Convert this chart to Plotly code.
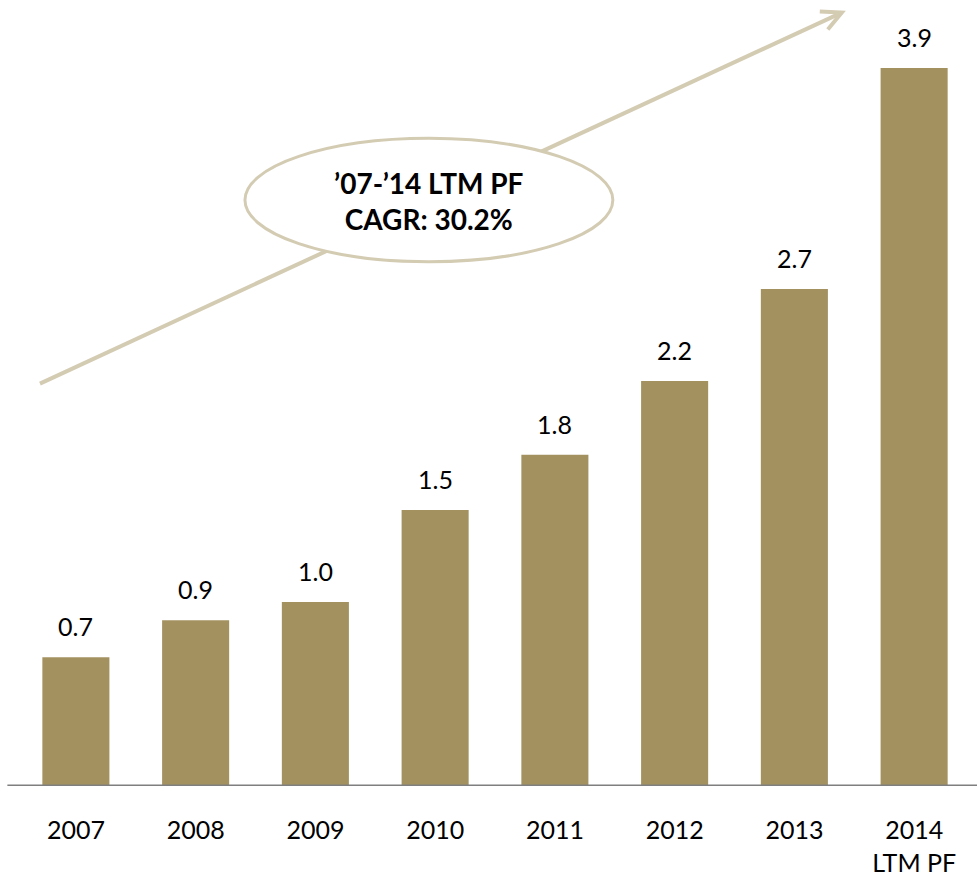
import plotly.graph_objects as go

years = ["2007", "2008", "2009", "2010", "2011", "2012", "2013", "2014"]
tick_text = ["2007", "2008", "2009", "2010", "2011", "2012", "2013", "2014<br>LTM PF"]
values = [0.7, 0.9, 1.0, 1.5, 1.8, 2.2, 2.7, 3.9]
value_labels = ["0.7", "0.9", "1.0", "1.5", "1.8", "2.2", "2.7", "3.9"]
cagr_text = "’07-’14 LTM PF<br>CAGR: 30.2%"

BAR = "#A39260"
ACCENT = "#D4CBB3"
FONT = "Lato, 'Open Sans', sans-serif"

fig = go.Figure(
    go.Bar(x=years, y=values, marker=dict(color=BAR, line=dict(width=0)), width=0.56)
)

# value labels above each bar (category index positions)
for i, (v, lbl) in enumerate(zip(values, value_labels)):
    fig.add_annotation(x=i, y=v, text=lbl, showarrow=False, yanchor="bottom",
                       yshift=14, font=dict(size=25, color="#000000", family=FONT))

# baseline
fig.add_shape(type="line", xref="paper", yref="y", x0=-0.009, x1=1.004, y0=0, y1=0,
              line=dict(color="#7F7F7F", width=3))

# growth arrow
fig.add_shape(type="line", xref="paper", yref="paper", x0=0.025, y0=0.512,
              x1=0.862, y1=0.984, line=dict(color=ACCENT, width=4))
fig.add_shape(type="path", xref="paper", yref="paper", xsizemode="pixel", ysizemode="pixel",
              xanchor=0.862, yanchor=0.984,
              path="M -22,1 L 0,0 L -14,-17",
              line=dict(color=ACCENT, width=4))

# CAGR bubble
fig.add_shape(type="circle", xref="paper", yref="paper", x0=0.239, x1=0.623,
              y0=0.667, y1=0.824, fillcolor="white", line=dict(color=ACCENT, width=3))
fig.add_annotation(xref="paper", yref="paper", x=0.431, y=0.7445, yanchor="middle",
                   xanchor="center", text="<b>" + cagr_text + "</b>",
                   showarrow=False, font=dict(size=28, color="#000000", family=FONT))

fig.update_layout(
    width=977, height=879,
    margin=dict(l=16, r=3, t=0, b=93),
    paper_bgcolor="white", plot_bgcolor="white",
    showlegend=False,
    font=dict(family=FONT, color="#000000"),
    xaxis=dict(type="category", range=[-0.5, 7.5], tickmode="array",
               tickvals=years, ticktext=tick_text,
               tickfont=dict(size=25, color="#000000", family=FONT), tickangle=0,
               ticks="outside", ticklen=22, tickcolor="rgba(0,0,0,0)",
               showline=False, showgrid=False, zeroline=False, automargin=False),
    yaxis=dict(range=[0, 4.27], visible=False, showgrid=False, zeroline=False),
)

fig.write_html("out.html")
